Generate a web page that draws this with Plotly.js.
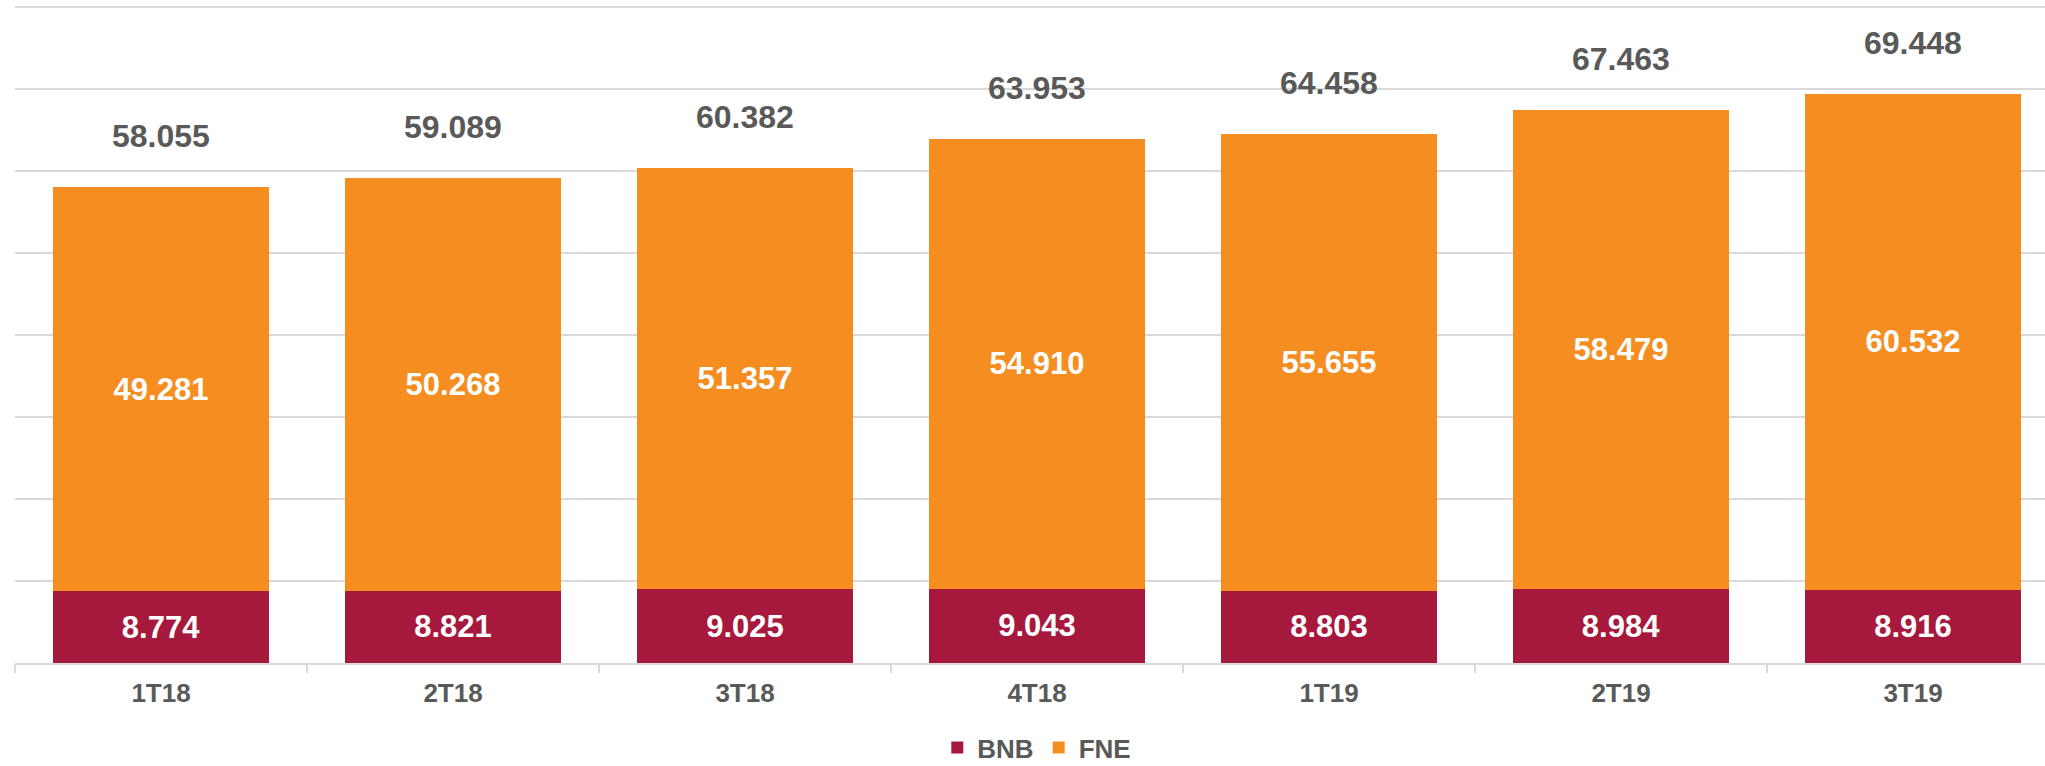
<!DOCTYPE html>
<html>
<head>
<meta charset="utf-8">
<script src="https://cdn.plot.ly/plotly-3.0.1.min.js"></script>
<style>html,body{margin:0;padding:0;background:#fff;}#chart{width:2045px;height:766px;}</style>
</head>
<body>
<div id="chart"></div>
<script>
const categories = ['1T18', '2T18', '3T18', '4T18', '1T19', '2T19', '3T19'];
const bnb = [8774, 8821, 9025, 9043, 8803, 8984, 8916];
const fne = [49281, 50268, 51357, 54910, 55655, 58479, 60532];
const totals = [58055, 59089, 60382, 63953, 64458, 67463, 69448];

const FONT = '"Liberation Sans", Arial, Helvetica, sans-serif';
const fmt = v => String(v).replace(/\B(?=(\d{3})+(?!\d))/g, '.');

const barText = {family: FONT, size: 31, color: '#ffffff', weight: 'bold'};

const traces = [
  {
    type: 'bar', name: 'BNB', x: categories, y: bnb,
    marker: {color: '#A6193C', line: {width: 0}},
    texttemplate: '%{y:,.0f}', textposition: 'inside', insidetextanchor: 'middle',
    textangle: 0, constraintext: 'none', textfont: barText, hoverinfo: 'skip'
  },
  {
    type: 'bar', name: 'FNE', x: categories, y: fne,
    marker: {color: '#F58D20', line: {width: 0}},
    texttemplate: '%{y:,.0f}', textposition: 'inside', insidetextanchor: 'middle',
    textangle: 0, constraintext: 'none', textfont: barText, hoverinfo: 'skip'
  }
];

const annotations = categories.map((c, i) => ({
  x: c, y: totals[i], xref: 'x', yref: 'y',
  text: fmt(totals[i]), showarrow: false,
  yanchor: 'middle', yshift: 51,
  font: {family: FONT, size: 32, color: '#595959', weight: 'bold'}
}));

const layout = {
  width: 2045, height: 766,
  margin: {l: 15, r: 0, t: 5, b: 103, pad: 0, autoexpand: false},
  paper_bgcolor: '#ffffff', plot_bgcolor: '#ffffff',
  barmode: 'stack', bargap: 0.26,
  separators: ',.',
  showlegend: true,
  legend: {
    orientation: 'h', xref: 'container', yref: 'container',
    x: 0.507, xanchor: 'center', y: 0.024, yanchor: 'middle',
    font: {family: FONT, size: 26, color: '#595959', weight: 'bold'},
    traceorder: 'normal', itemclick: false
  },
  xaxis: {
    type: 'category', range: [-0.5, 6.452], fixedrange: true,
    showline: true, linecolor: '#d9d9d9', linewidth: 1.5,
    ticks: 'outside', tickson: 'boundaries', ticklen: 8, tickcolor: '#d9d9d9', tickwidth: 1.5,
    ticklabelstandoff: 6,
    tickfont: {family: FONT, size: 26, color: '#595959', weight: 'bold'},
    showgrid: false
  },
  yaxis: {
    range: [0, 80244], dtick: 10000, tick0: 0, fixedrange: true,
    showgrid: true, gridcolor: '#d9d9d9', gridwidth: 1.5,
    zeroline: false, showticklabels: false, ticks: ''
  },
  annotations: annotations,
  font: {family: FONT}
};

Plotly.newPlot('chart', traces, layout, {displayModeBar: false, staticPlot: true});
</script>
</body>
</html>
